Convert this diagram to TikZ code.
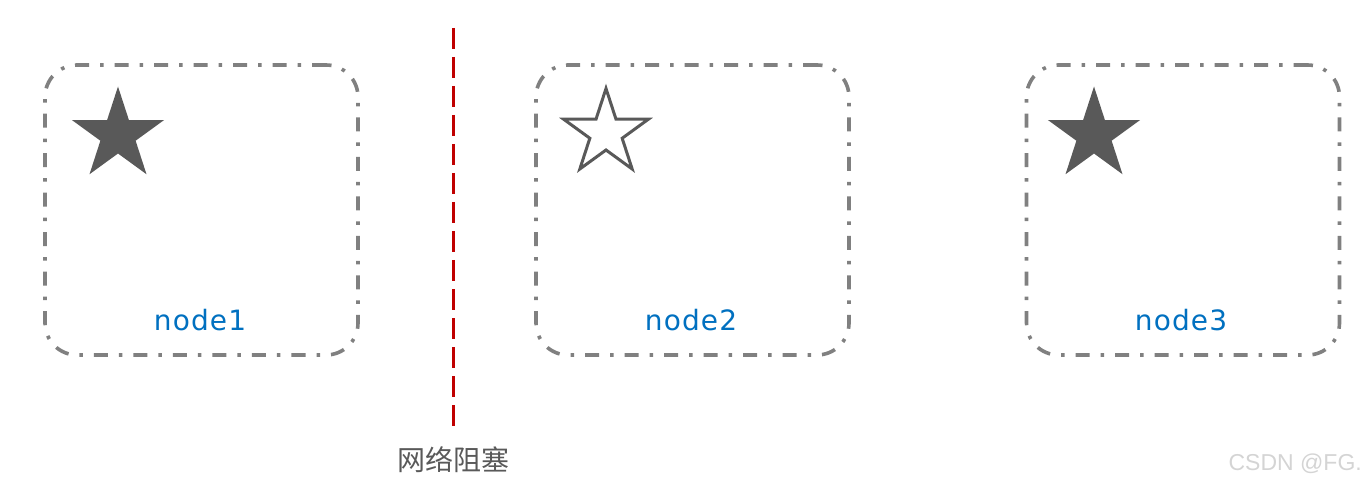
\documentclass[tikz,border=0pt]{standalone}
\usepackage{fontspec}
\newfontfamily\cjk{Noto Sans CJK SC}
\newfontfamily\dvs[LetterSpace=4]{DejaVu Sans}
\newfontfamily\lbs{Liberation Sans}
\usetikzlibrary{shapes.geometric}
\definecolor{boxgray}{HTML}{808080}
\definecolor{stargray}{HTML}{595959}
\definecolor{lblblue}{HTML}{0070C0}
\definecolor{blockred}{HTML}{C00000}
\definecolor{wmgray}{HTML}{D4D4D4}
\tikzset{
  nodebox/.style={draw=boxgray, line width=3.6pt, rounded corners=32pt,
    dash pattern=on 14pt off 11pt on 3.5pt off 11pt, inner sep=0pt,
    minimum width=313pt, minimum height=290pt},
  fullstar/.style={star, star points=5, star point ratio=2.618, fill=stargray,
    draw=none, inner sep=0pt, minimum size=97pt},
  emptystar/.style={star, star points=5, star point ratio=2.618, draw=stargray,
    line width=3pt, fill=none, inner sep=0pt, minimum size=89pt},
  nodelabel/.style={text=lblblue, font=\dvs\fontsize{28}{30}\selectfont, anchor=base, inner sep=0pt},
  blockline/.style={draw=blockred, line width=3pt, dash pattern=on 21pt off 8pt},
  blocklabel/.style={text=stargray, font=\cjk\fontsize{28}{30}\selectfont, inner sep=0pt},
  watermark/.style={text=wmgray, font=\lbs\fontsize{23}{26}\selectfont, inner sep=0pt, anchor=base east}
}
\begin{document}
\begin{tikzpicture}[x=1pt,y=-1pt]
\useasboundingbox (0,0) rectangle (1367,486);
% boxes
\node[nodebox] (box1) at (201.5,210) {};
\node[nodebox] (box2) at (692.5,210) {};
\node[nodebox] (box3) at (1183,210) {};
% stars
\node[fullstar] (star1) at (118,135) {};
\node[emptystar] (star2) at (606,133) {};
\node[fullstar] (star3) at (1094,135) {};
% labels
\node[nodelabel] (lbl1) at (200,330) {node1};
\node[nodelabel] (lbl2) at (691,330) {node2};
\node[nodelabel] (lbl3) at (1181,330) {node3};
% blocking line
\coordinate (ltop) at (453,28);
\coordinate (lbot) at (453,432);
\draw[blockline] (ltop) -- (lbot);
\node[blocklabel] (block) at (453,460) {网络阻塞};
% watermark
\node[watermark] (wm) at (1362,470) {CSDN @FG.};
\end{tikzpicture}
\end{document}
